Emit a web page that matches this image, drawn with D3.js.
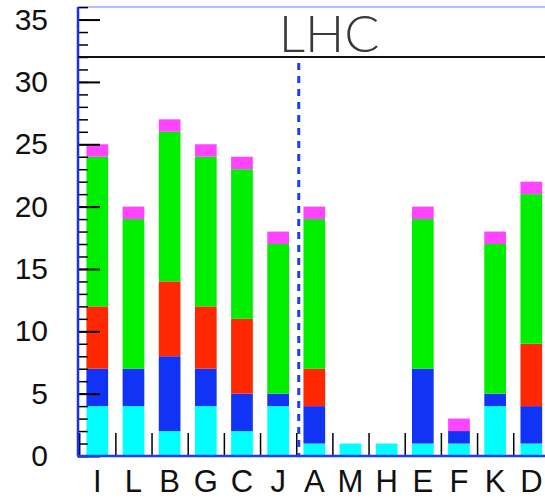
<!DOCTYPE html>
<html>
<head>
<meta charset="utf-8">
<script src="https://cdn.jsdelivr.net/npm/d3@7"></script>
<style>
  html, body { margin: 0; padding: 0; background: #fff; }
  svg { display: block; }
</style>
</head>
<body>
<svg id="chart" width="545" height="499"></svg>
<script>
// Categories along the x axis
const categories = ["I", "L", "B", "G", "C", "J", "A", "M", "H", "E", "F", "K", "D"];

// Stacked contributions per category (bottom to top)
const cyanVals    = [4, 4, 2, 4, 2, 4, 1, 1, 1, 1, 1, 4, 1];
const blueVals    = [3, 3, 6, 3, 3, 1, 3, 0, 0, 6, 1, 1, 3];
const redVals     = [5, 0, 6, 5, 6, 0, 3, 0, 0, 0, 0, 0, 5];
const greenVals   = [12, 12, 12, 12, 12, 12, 12, 0, 0, 12, 0, 12, 12];
const magentaVals = [1, 1, 1, 1, 1, 1, 1, 0, 0, 1, 1, 1, 1];

const seriesKeys = ["cyan", "blue", "red", "green", "magenta"];
const seriesVals = [cyanVals, blueVals, redVals, greenVals, magentaVals];
const seriesColors = ["#00ffff", "#1133f5", "#ff2800", "#00ee00", "#ff44ff"];

// Y axis tick values
const yMajorTicks = [0, 5, 10, 15, 20, 25, 30, 35];
const yMax = 36;

// Reference level and divider position (divider in category units)
const limitLevel = 32;
const limitLabel = "LHC";
const dividerAt = 6.07;

const svg = d3.select("#chart");
const plotLeft = 79.2, plotRight = 549.4, plotBottom = 456, plotTop = 7.1;

const x = d3.scaleBand().domain(categories).range([plotLeft, plotRight])
  .paddingInner(0.4).paddingOuter(0.2);
const xLin = d3.scaleLinear().domain([0, categories.length]).range([plotLeft, plotRight]);
const y = d3.scaleLinear().domain([0, yMax]).range([plotBottom, plotTop]);

// Build table for stacking
const table = categories.map((c, i) => {
  const row = { cat: c };
  seriesKeys.forEach((k, j) => row[k] = seriesVals[j][i]);
  return row;
});
const stacked = d3.stack().keys(seriesKeys)(table);

// Bars
svg.append("g").selectAll("g")
  .data(stacked)
  .join("g")
  .attr("fill", (d, i) => seriesColors[i])
  .selectAll("rect")
  .data(d => d.filter(s => s[1] - s[0] > 0))
  .join("rect")
  .attr("x", d => x(d.data.cat))
  .attr("width", x.bandwidth())
  .attr("y", d => y(d[1]))
  .attr("height", d => y(d[0]) - y(d[1]));

// Top frame line
svg.append("line")
  .attr("x1", 78).attr("x2", 545)
  .attr("y1", y(yMax)).attr("y2", y(yMax))
  .attr("stroke", "#9fa6ff").attr("stroke-width", 1.5);

// Minor y ticks
const yMinor = d3.axisLeft(y).tickValues(d3.range(0, yMax + 1, 1))
  .tickSize(-10).tickFormat("");
svg.append("g").attr("transform", "translate(78,0)").call(yMinor)
  .call(g => g.select(".domain").remove())
  .call(g => g.selectAll(".tick line").attr("stroke", "#000").attr("stroke-width", 1.5));

// Major y ticks with labels
const yAxis = d3.axisLeft(y).tickValues(yMajorTicks).tickSize(-22).tickPadding(30);
svg.append("g").attr("transform", "translate(78,0)").call(yAxis)
  .call(g => g.select(".domain").remove())
  .call(g => g.selectAll(".tick line").attr("stroke", "#000").attr("stroke-width", 2))
  .call(g => g.selectAll(".tick text")
    .attr("font-family", "'Liberation Sans', Arial, sans-serif")
    .attr("font-size", 30).attr("fill", "#111"));

// X boundary ticks
const xTicks = d3.axisBottom(xLin).tickValues(d3.range(0, categories.length + 1))
  .tickSize(-23).tickFormat("");
svg.append("g").attr("transform", `translate(0,${plotBottom})`).call(xTicks)
  .call(g => g.select(".domain").remove())
  .call(g => g.selectAll(".tick line").attr("stroke", "#000").attr("stroke-width", 1.5));

// X category labels
const xAxis = d3.axisBottom(x).tickSize(0).tickPadding(14);
svg.append("g").attr("transform", `translate(0,${plotBottom})`).call(xAxis)
  .call(g => g.select(".domain").remove())
  .call(g => g.selectAll(".tick text")
    .attr("font-family", "'Liberation Sans', Arial, sans-serif")
    .attr("font-size", 31).attr("fill", "#111"));

// Axis lines
svg.append("line")
  .attr("x1", 78).attr("x2", 78).attr("y1", plotTop).attr("y2", plotBottom)
  .attr("stroke", "#1a2cff").attr("stroke-width", 2.5);
svg.append("line")
  .attr("x1", 77).attr("x2", 545).attr("y1", plotBottom).attr("y2", plotBottom)
  .attr("stroke", "#1a3cff").attr("stroke-width", 2.5);

// Reference level line
svg.append("line")
  .attr("x1", 78).attr("x2", 545)
  .attr("y1", y(limitLevel)).attr("y2", y(limitLevel))
  .attr("stroke", "#111").attr("stroke-width", 2.2);

// Divider
svg.append("line")
  .attr("x1", xLin(dividerAt)).attr("x2", xLin(dividerAt))
  .attr("y1", y(limitLevel) + 6).attr("y2", plotBottom)
  .attr("stroke", "#1a3cff").attr("stroke-width", 3)
  .attr("stroke-dasharray", "7,6");

// Level label
svg.append("text")
  .attr("x", 329).attr("y", 52)
  .attr("text-anchor", "middle")
  .attr("font-family", "Lato, 'Liberation Sans', sans-serif")
  .attr("font-weight", 300)
  .attr("font-size", 52)
  .attr("fill", "#3a3a3a")
  .text(limitLabel);
</script>
</body>
</html>
